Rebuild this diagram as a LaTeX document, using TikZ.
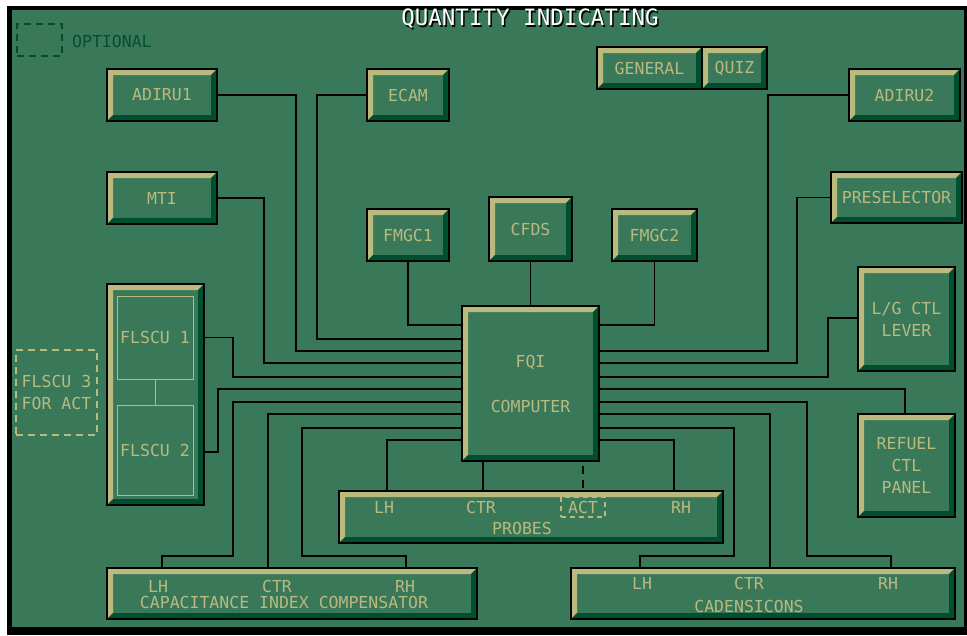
\documentclass[tikz,border=0pt]{standalone}
\usepackage{fontspec}
\newfontfamily\pixfont{DejaVu Sans Mono}
\newcommand\bxfont{\pixfont\fontsize{16.5}{22}\selectfont}
\newcommand\ttlfont{\pixfont\fontsize{22.5}{26}\selectfont}
\definecolor{bggreen}{RGB}{58,120,90}
\definecolor{tanc}{RGB}{186,186,126}
\definecolor{darkg}{RGB}{0,80,48}
\tikzset{
  bev/.style={rectangle, draw=black, line width=1.5pt, fill=bggreen, inner sep=0pt, text=tanc, font=\bxfont, align=center,
    path picture={
      \fill[tanc] (path picture bounding box.north west) -- (path picture bounding box.north east)
        -- ([shift={(-6pt,-6pt)}]path picture bounding box.north east)
        -- ([shift={(6pt,-6pt)}]path picture bounding box.north west)
        -- ([shift={(6pt,6pt)}]path picture bounding box.south west)
        -- (path picture bounding box.south west) -- cycle;
      \fill[darkg] (path picture bounding box.south east) -- (path picture bounding box.south west)
        -- ([shift={(6pt,6pt)}]path picture bounding box.south west)
        -- ([shift={(-6pt,6pt)}]path picture bounding box.south east)
        -- ([shift={(-6pt,-6pt)}]path picture bounding box.north east)
        -- (path picture bounding box.north east) -- cycle;
    }},
  lbl/.style={inner sep=0pt, text=tanc, font=\bxfont, align=center},
  wire/.style={draw=black, line width=1.6pt},
  inbox/.style={rectangle, draw=tanc, line width=1pt, inner sep=0pt, text=tanc, font=\bxfont},
  optbox/.style={rectangle, dash pattern=on 7pt off 5pt, line width=1.5pt, inner sep=0pt, align=center, font=\bxfont},
}
\begin{document}
\begin{tikzpicture}[x=1pt,y=-1pt]
\useasboundingbox (0,0) rectangle (967,635);
\fill[white] (0,0) rectangle (967,635);
\fill[black] (7,6) rectangle (967,635);
\fill[bggreen] (12,10) rectangle (964,627);

% title
\node[font=\ttlfont, text=black, inner sep=0pt] (titlesh) at (531.5,20.5) {QUANTITY INDICATING};
\node[font=\ttlfont, text=white, inner sep=0pt] (title) at (530,19) {QUANTITY INDICATING};

% optional legend
\node[optbox, draw=darkg, minimum width=45pt, minimum height=32pt] (optkey) at (39.5,40) {};
\node[anchor=west, inner sep=0pt, text=darkg, font=\bxfont] (optlbl) at (72,41) {OPTIONAL};

% boxes
\node[bev, minimum width=110pt, minimum height=52pt] (adiru1) at (162,95) {ADIRU1};
\node[bev, minimum width=110pt, minimum height=52pt] (mti) at (162,198) {MTI};
\node[bev, minimum width=82pt, minimum height=52pt] (ecam) at (408,95) {ECAM};
\node[bev, minimum width=82pt, minimum height=52pt] (fmgc1) at (408,235) {FMGC1};
\node[bev, minimum width=83pt, minimum height=64pt] (cfds) at (530.5,229) {CFDS};
\node[bev, minimum width=85pt, minimum height=52pt] (fmgc2) at (654.5,235) {FMGC2};
\node[bev, minimum width=137pt, minimum height=155pt] (fqi) at (530.5,383.5) {FQI\\[23pt]COMPUTER};
\node[bev, minimum width=105pt, minimum height=42pt] (general) at (649.5,68) {GENERAL};
\node[bev, minimum width=65pt, minimum height=42pt] (quiz) at (734.5,68) {QUIZ};
\node[bev, minimum width=111pt, minimum height=52pt] (adiru2) at (904.5,95) {ADIRU2};
\node[bev, minimum width=131pt, minimum height=51pt] (presel) at (896.5,197.5) {PRESELECTOR};
\node[bev, minimum width=97pt, minimum height=104pt] (lg) at (906.5,319) {L/G CTL\\LEVER};
\node[bev, minimum width=97pt, minimum height=103pt] (refuel) at (906.5,465.5) {REFUEL\\CTL\\PANEL};

% probes
\node[bev, minimum width=384pt, minimum height=52pt] (probes) at (531,517) {};
\node[lbl] (plh) at (384,507) {LH};
\node[lbl] (pctr) at (481,507) {CTR};
\node[optbox, draw=tanc, text=tanc, dash pattern=on 5pt off 4pt, line width=1.2pt, minimum width=44pt, minimum height=20pt] (pact) at (583,507) {ACT};
\node[lbl] (prh) at (681,507) {RH};
\node[lbl] (pname) at (522,528) {PROBES};

% capacitance index compensator
\node[bev, minimum width=370pt, minimum height=51pt] (cap) at (292,593.5) {};
\node[lbl] (clh) at (158,586) {LH};
\node[lbl] (cctr) at (277,586) {CTR};
\node[lbl] (crh) at (405,586) {RH};
\node[lbl] (cname) at (284,602) {CAPACITANCE INDEX COMPENSATOR};

% cadensicons
\node[bev, minimum width=384pt, minimum height=51pt] (cad) at (763,593.5) {};
\node[lbl] (dlh) at (642,583) {LH};
\node[lbl] (dctr) at (749,583) {CTR};
\node[lbl] (drh) at (888,583) {RH};
\node[lbl] (dname) at (749,606) {CADENSICONS};

% FLSCU
\node[bev, minimum width=97pt, minimum height=221pt] (flscu) at (155.5,394.5) {};
\node[inbox, minimum width=76pt, minimum height=83pt] (fl1) at (155,337.5) {FLSCU 1};
\node[inbox, minimum width=76pt, minimum height=90pt] (fl2) at (155,450) {FLSCU 2};
\draw[tanc, line width=1pt] (fl1.south) -- (fl2.north);
\node[optbox, draw=tanc, text=tanc, minimum width=81pt, minimum height=85pt] (fl3) at (56.5,392.5) {FLSCU 3\\FOR ACT};

% connectors, left side of FQI
\draw[wire] (fmgc1.south) |- (fqi.west |- 0,325);
\draw[wire] (ecam.west) -| (317,339) -- (fqi.west |- 0,339);
\draw[wire] (adiru1.east) -| (296,351) -- (fqi.west |- 0,351);
\draw[wire] (mti.east) -| (264,363) -- (fqi.west |- 0,363);
\draw[wire] (flscu.east |- fl1.east) -| (233,377) -- (fqi.west |- 0,377);
\draw[wire] (flscu.east |- 0,452) -| (218,389) -- (fqi.west |- 0,389);
\draw[wire] (fqi.west |- 0,402) -| (233,556) -| (cap.north -| 162,0);
\draw[wire] (fqi.west |- 0,414) -| (cap.north -| 268,0);
\draw[wire] (fqi.west |- 0,428) -| (302,556) -| (cap.north -| 406,0);
\draw[wire] (fqi.west |- 0,440) -| (probes.north -| 387,0);

% connectors, right side of FQI
\draw[wire] (fmgc2.south) |- (fqi.east |- 0,325);
\draw[wire] (adiru2.west) -| (768,351) -- (fqi.east |- 0,351);
\draw[wire] (presel.west) -| (797,363) -- (fqi.east |- 0,363);
\draw[wire] (lg.west |- 0,318) -| (828,377) -- (fqi.east |- 0,377);
\draw[wire] (fqi.east |- 0,389) -| (refuel.north -| 905,0);
\draw[wire] (fqi.east |- 0,402) -| (807,556) -| (cad.north -| 891,0);
\draw[wire] (fqi.east |- 0,414) -| (cad.north -| 770,0);
\draw[wire] (fqi.east |- 0,428) -| (734,556) -| (cad.north -| 640,0);
\draw[wire] (fqi.east |- 0,440) -| (probes.north -| 674,0);

% top and bottom of FQI
\draw[wire] (cfds.south) -- (fqi.north -| cfds.south);
\draw[wire] (fqi.south -| 483,0) -- (probes.north -| 483,0);
\draw[wire, dash pattern=on 8pt off 6pt, dash phase=10pt] (fqi.south -| pact.north) -- (probes.north -| pact.north);
\end{tikzpicture}
\end{document}
